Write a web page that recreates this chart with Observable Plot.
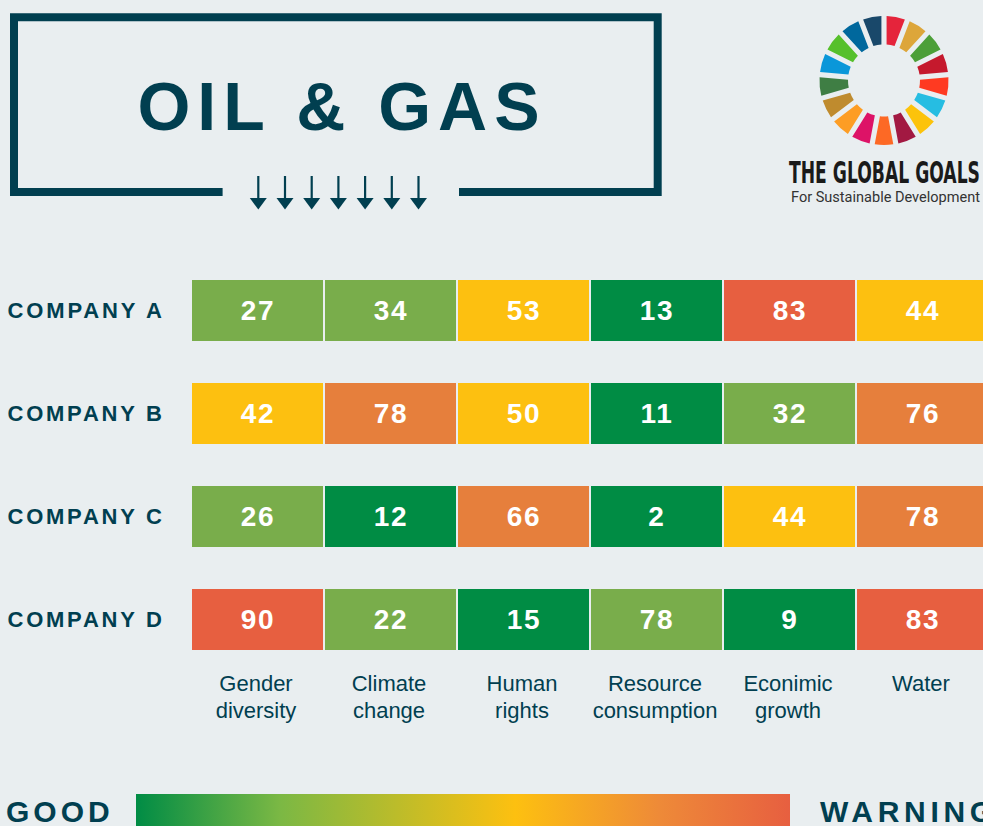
<!DOCTYPE html>
<html>
<head>
<meta charset="utf-8">
<script src="https://cdn.jsdelivr.net/npm/d3@7"></script>
<script src="https://cdn.jsdelivr.net/npm/@observablehq/plot@0.6"></script>
<style>
  html, body { margin: 0; padding: 0; background: #e9eef0; overflow: hidden; }
  #page { position: relative; width: 983px; height: 826px; overflow: hidden; background: #e9eef0;
          font-family: "Liberation Sans", Arial, sans-serif; }
  #page svg { position: absolute; left: 0; top: 0; }
</style>
</head>
<body>
<div id="page"></div>
<script>
// ---------- data ----------
const title = "OIL & GAS";
const companies = ["COMPANY A", "COMPANY B", "COMPANY C", "COMPANY D"];
const categories = ["Gender\ndiversity", "Climate\nchange", "Human\nrights", "Resource\nconsumption", "Econimic\ngrowth", "Water"];
const scoresA = [27, 34, 53, 13, 83, 44];
const scoresB = [42, 78, 50, 11, 32, 76];
const scoresC = [26, 12, 66, 2, 44, 78];
const scoresD = [90, 22, 15, 78, 9, 83];
// rating band of each cell as coloured in the picture (0 = best ... 4 = warning)
const levelsA = [1, 1, 2, 0, 4, 2];
const levelsB = [2, 3, 2, 0, 1, 3];
const levelsC = [1, 0, 3, 0, 2, 3];
const levelsD = [4, 1, 0, 1, 0, 4];
const levelNames = ["0–20", "20–40", "40–60", "60–80", "80–100"];
const levelColors = ["#008c44", "#79ad4b", "#fdc010", "#e67f3c", "#e75f40"];
const legendLabels = ["GOOD", "WARNING"];
const gradientStops = [[0, "#008c45"], [0.22, "#7bb844"], [0.58, "#fdc010"], [0.8, "#ee8a38"], [1, "#e75f40"]];
const sdgColors = ["#e5243b", "#dda63a", "#4c9f38", "#c5192d", "#ff3a21", "#26bde2", "#fcc30b", "#a21942",
                   "#fd6925", "#dd1367", "#fd9d24", "#bf8b2e", "#3f7e44", "#0a97d9", "#56c02b", "#00689d", "#19486a"];
const logoTitle = "THE GLOBAL GOALS";
const logoSubtitle = "For Sustainable Development";

const teal = "#013f50";
const scoreRows = [scoresA, scoresB, scoresC, scoresD];
const levelRows = [levelsA, levelsB, levelsC, levelsD];
const cells = companies.flatMap((c, i) => categories.map((k, j) => ({
  company: c, category: k, value: scoreRows[i][j], level: levelNames[levelRows[i][j]]
})));

const page = document.getElementById("page");

// ---------- decoration layer (title frame, logo, legend) ----------
const deco = d3.select(page).append("svg").attr("width", 983).attr("height", 826);

// title frame
deco.append("path")
  .attr("d", "M222.6,192 H14 V17.3 H657.7 V192 H459")
  .attr("fill", "none").attr("stroke", teal).attr("stroke-width", 8).attr("stroke-linejoin", "miter");
for (let i = 0; i < 7; i++) {
  const ax = 258.3 + i * 26.7;
  deco.append("line").attr("x1", ax).attr("x2", ax).attr("y1", 176).attr("y2", 200)
    .attr("stroke", teal).attr("stroke-width", 2.2);
  deco.append("path").attr("d", `M${ax - 8.5},198 L${ax + 8.5},198 L${ax},209.5 Z`).attr("fill", teal);
}
deco.append("text").text(title)
  .attr("x", 137.5).attr("y", 130)
  .attr("textLength", 402).attr("lengthAdjust", "spacing")
  .attr("font-family", "Liberation Sans, Arial, sans-serif").attr("font-weight", "bold")
  .attr("font-size", 68).attr("fill", teal);

// SDG wheel logo
const arc = d3.arc().innerRadius(36).outerRadius(64.5).padAngle(0.07);
const wheel = deco.append("g").attr("transform", "translate(884,80.5)");
sdgColors.forEach((c, i) => {
  wheel.append("path")
    .attr("d", arc({startAngle: i * 2 * Math.PI / 17, endAngle: (i + 1) * 2 * Math.PI / 17}))
    .attr("fill", c);
});
deco.append("text").text(logoTitle)
  .attr("x", 789).attr("y", 182.5)
  .attr("textLength", 191).attr("lengthAdjust", "spacingAndGlyphs")
  .attr("font-family", "DejaVu Sans Condensed, DejaVu Sans, sans-serif").attr("font-weight", "bold")
  .attr("font-size", 29.5).attr("fill", "#1a1a1a");
deco.append("text").text(logoSubtitle)
  .attr("x", 791).attr("y", 202)
  .attr("textLength", 189).attr("lengthAdjust", "spacingAndGlyphs")
  .attr("font-family", "Roboto, sans-serif")
  .attr("font-size", 15).attr("fill", "#333333");

// gradient legend
const grad = deco.append("defs").append("linearGradient").attr("id", "lg")
  .attr("x1", "0%").attr("x2", "100%").attr("y1", "0%").attr("y2", "0%");
gradientStops.forEach(([o, c]) => grad.append("stop").attr("offset", o).attr("stop-color", c));
deco.append("rect").attr("x", 136).attr("y", 794).attr("width", 654).attr("height", 40).attr("fill", "url(#lg)");
deco.append("text").text(legendLabels[0])
  .attr("x", 6).attr("y", 822)
  .attr("font-family", "Liberation Sans, Arial, sans-serif").attr("font-weight", "bold")
  .attr("font-size", 30).attr("letter-spacing", "4px").attr("fill", teal);
deco.append("text").text(legendLabels[1])
  .attr("x", 820).attr("y", 822)
  .attr("font-family", "Liberation Sans, Arial, sans-serif").attr("font-weight", "bold")
  .attr("font-size", 30).attr("letter-spacing", "4.7px").attr("fill", teal);

// ---------- heatmap (Observable Plot) ----------
const chart = Plot.plot({
  width: 983,
  height: 826,
  marginLeft: 0, marginRight: 0, marginTop: 0, marginBottom: 175.5,
  style: {background: "transparent", overflow: "hidden"},
  x: {type: "band", domain: categories, range: [192, 988], paddingInner: 2 / 133, paddingOuter: 0, axis: null},
  y: {type: "band", domain: companies, range: [280, 650.5], paddingInner: 0.403, paddingOuter: 0, axis: null},
  color: {type: "ordinal", domain: levelNames, range: levelColors},
  marks: [
    Plot.cell(cells, {x: "category", y: "company", fill: "level"}),
    Plot.text(cells, {x: "category", y: "company", text: d => String(d.value), fill: "white",
      fontSize: 28, fontWeight: "bold", fontFamily: "Liberation Sans, Arial, sans-serif"}),
    Plot.text(companies, {y: d => d, frameAnchor: "left", textAnchor: "start", dx: 7, fill: teal,
      fontSize: 22, fontWeight: "bold", fontFamily: "Liberation Sans, Arial, sans-serif"}),
    Plot.text(categories, {x: d => d, frameAnchor: "bottom", lineAnchor: "top", dy: 21.5, dx: -2, lineHeight: 1.2,
      fill: teal, fontSize: 22, fontFamily: "Liberation Sans, Arial, sans-serif"})
  ]
});
page.appendChild(chart);

const textGroups = chart.querySelectorAll('g[aria-label="text"]');
d3.select(textGroups[0]).selectAll("text").attr("letter-spacing", "1.8px");
d3.select(textGroups[1]).selectAll("text")
  .attr("textLength", 154.5).attr("lengthAdjust", "spacing");
</script>
</body>
</html>
